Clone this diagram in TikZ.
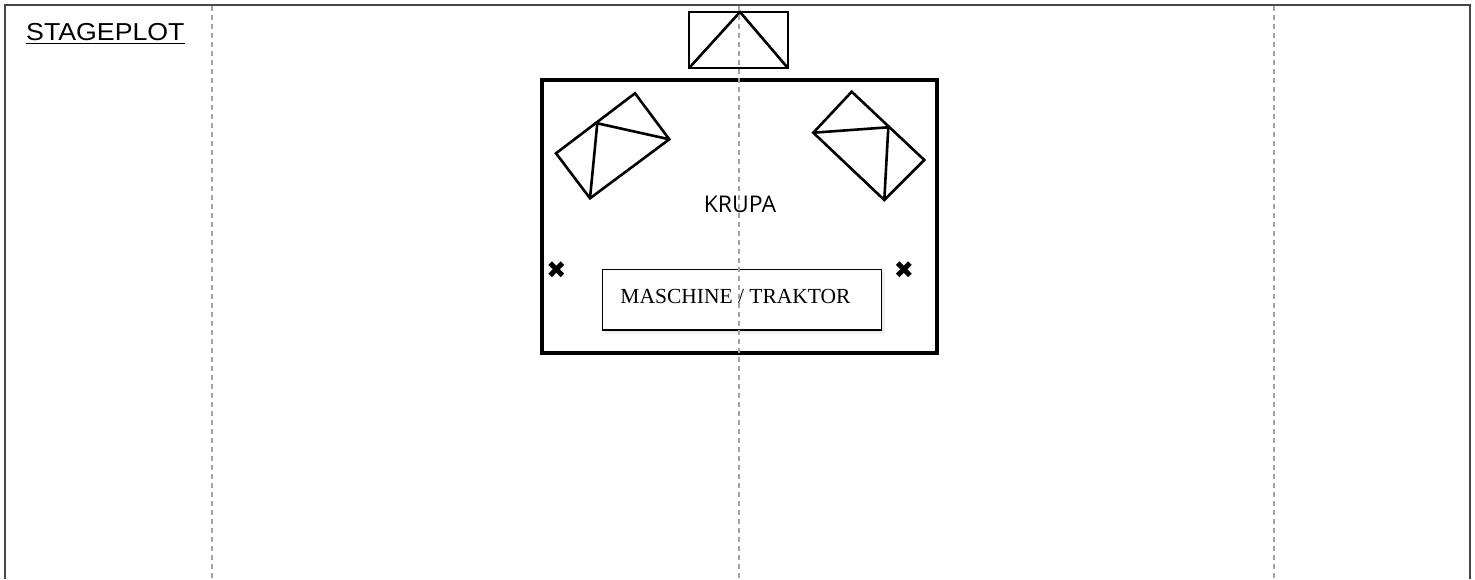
\documentclass[tikz,border=0pt]{standalone}
\usepackage{fontspec}
\setmainfont{Liberation Serif}
\newfontfamily\arialf{Liberation Sans}
\newfontfamily\opensans{Open Sans}
\newfontfamily\dejavu{DejaVu Sans}
\begin{document}
\begin{tikzpicture}[x=1pt,y=-1pt,
  frameline/.style={draw=black!72, line width=2pt},
  guide/.style={draw=black!36, line width=1.1pt, dash pattern=on 5pt off 4pt},
  outline/.style={draw=black, line width=2.6pt, line join=miter},
  stagebox/.style={draw=black, line width=4pt},
  xmark/.style={font=\dejavu\fontsize{24}{24}\selectfont, inner sep=0pt},
]
\useasboundingbox (0,0) rectangle (1475,579);
\fill[white] (0,0) rectangle (1475,579);
% frame
\draw[frameline] (4.5,579) -- (4.5,4.5) -- (1469.5,4.5) -- (1469.5,579);
% title
\node[font=\arialf\fontsize{24.5}{24.5}\selectfont, anchor=base west, inner sep=0pt, xscale=1.09] (title) at (26,40) {STAGEPLOT};
\draw[black, line width=1.6pt] (title.base west) ++(0,3.5) coordinate (ul1) -- (ul1 -| title.base east);
% monitor at top
\draw[outline] (689,12) rectangle (788,68);
\draw[outline] (690,67) -- (740,12) -- (787,67);
% stage
\draw[stagebox] (542,80) rectangle (937,353);
% left wedge
\draw[outline] (635,93.3) -- (669.3,139.3) -- (590,198.3) -- (556,153.3) -- cycle;
\draw[outline] (669.3,139.3) -- (597.3,123.3) -- (590,198.3);
% right wedge
\draw[outline] (851.7,91.7) -- (924.3,160) -- (884.3,200) -- (813.3,132.7) -- cycle;
\draw[outline] (813.3,132.7) -- (888.3,127.3) -- (884.3,200);
% label
\node[font=\opensans\fontsize{23}{23}\selectfont, inner sep=0pt] (krupa) at (740,204) {KRUPA};
% x marks
\node[xmark] (xl) at (556.5,270) {✖};
\node[xmark] (xr) at (904,270) {✖};
% mixer box with soft shadow
\fill[black!5] (604.5,272) rectangle (884.5,333.5);
\fill[black!9] (603.5,271) rectangle (883,331.5);
\draw[black, line width=1.2pt, fill=white] (602.5,269.5) rectangle (881.5,330);
\node[font=\fontsize{21.5}{21.5}\selectfont, inner sep=0pt] (mix) at (735.5,296) {MASCHINE / TRAKTOR};
% guide lines
\draw[guide] (212,5.5) -- (212,579);
\draw[guide] (739,5.5) -- (739,579);
\draw[guide] (1274,5.5) -- (1274,579);
\end{tikzpicture}
\end{document}
